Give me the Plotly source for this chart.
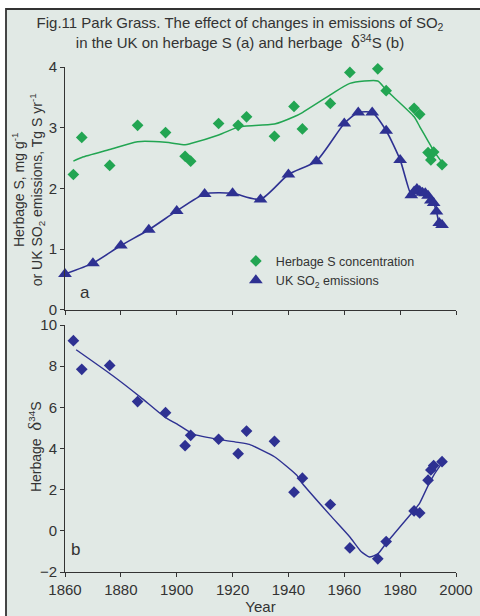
import plotly.graph_objects as go
from plotly.subplots import make_subplots

# ---- data ----
herb_years = [1863, 1866, 1876, 1886, 1896, 1903, 1905, 1915, 1922, 1925, 1935, 1942,
              1945, 1955, 1962, 1972, 1975, 1985, 1987, 1990, 1991, 1992, 1995]
herb_s = [2.23, 2.84, 2.38, 3.04, 2.92, 2.53, 2.45, 3.07, 3.04, 3.18, 2.86, 3.35,
          2.98, 3.40, 3.91, 3.97, 3.61, 3.32, 3.22, 2.59, 2.47, 2.60, 2.39]
herb_s_fit = [2.45, 2.51, 2.64, 2.77, 2.76, 2.72, 2.74, 2.88, 3.01, 3.03, 3.06, 3.18,
              3.25, 3.54, 3.73, 3.77, 3.62, 3.18, 3.02, 2.78, 2.70, 2.62, 2.43]

so2_years = [1860, 1870, 1880, 1890, 1900, 1910, 1920, 1930, 1940, 1950, 1960, 1965, 1970,
             1975, 1980, 1984, 1985, 1986, 1987, 1988, 1989, 1990, 1991, 1992, 1993, 1994, 1995]
so2_emis = [0.59, 0.77, 1.06, 1.32, 1.63, 1.91, 1.92, 1.82, 2.23, 2.45, 3.07, 3.25, 3.25,
            2.95, 2.47, 1.89, 1.95, 1.99, 1.96, 1.93, 1.92, 1.88, 1.80, 1.76, 1.62, 1.43, 1.40]

d34s = [9.24, 7.85, 8.04, 6.28, 5.74, 4.14, 4.64, 4.45, 3.75, 4.85, 4.35, 1.88,
        2.56, 1.28, -0.83, -1.36, -0.52, 0.97, 0.87, 2.46, 2.96, 3.17, 3.36]
d34s_fit_years = [1864, 1877, 1887, 1896, 1900, 1906, 1916, 1922, 1926, 1935, 1943, 1945,
                  1955, 1962, 1966, 1969, 1972, 1975, 1985, 1987, 1990, 1992, 1995]
d34s_fit = [8.8, 7.55, 6.5, 5.5, 5.2, 4.7, 4.42, 4.3, 4.2, 3.6, 2.7, 2.3,
            0.75, -0.3, -1.0, -1.27, -1.12, -0.6, 1.0, 1.35, 2.2, 2.7, 3.3]

x_ticks = [1860, 1880, 1900, 1920, 1940, 1960, 1980, 2000]

GREEN = "#22a552"
BLUE = "#2e3192"
BG = "#e1e9e5"
INK = "#333333"
FONT = "Liberation Sans, Arial, sans-serif"
DELTA = '<span style="font-family:Liberation Serif;font-size:19px">δ</span>'

fig = make_subplots(rows=2, cols=1, vertical_spacing=0.03)

# ---- panel a ----
fig.add_trace(go.Scatter(x=herb_years, y=herb_s_fit, mode="lines",
                         line=dict(color=GREEN, width=1.5, shape="spline", smoothing=0.6),
                         showlegend=False, hoverinfo="skip"), row=1, col=1)
fig.add_trace(go.Scatter(x=so2_years, y=so2_emis, mode="lines",
                         line=dict(color=BLUE, width=1.6, shape="spline", smoothing=0.6),
                         showlegend=False, hoverinfo="skip"), row=1, col=1)
fig.add_trace(go.Scatter(x=herb_years, y=herb_s, mode="markers", name="Herbage S concentration",
                         marker=dict(symbol="diamond", size=9, color=GREEN),
                         cliponaxis=False), row=1, col=1)
fig.add_trace(go.Scatter(x=so2_years, y=so2_emis, mode="markers",
                         name="UK SO<sub>2</sub> emissions",
                         marker=dict(symbol="triangle-up", size=12, color=BLUE),
                         cliponaxis=False), row=1, col=1)

# ---- panel b ----
fig.add_trace(go.Scatter(x=d34s_fit_years, y=d34s_fit, mode="lines",
                         line=dict(color=BLUE, width=1.4, shape="spline", smoothing=0.5),
                         showlegend=False, hoverinfo="skip"), row=2, col=1)
fig.add_trace(go.Scatter(x=herb_years, y=d34s, mode="markers",
                         marker=dict(symbol="diamond", size=9, color=BLUE),
                         showlegend=False, cliponaxis=False), row=2, col=1)

axis_style = dict(showgrid=False, zeroline=False, showline=True, linecolor=INK, linewidth=1,
                  ticks="outside", ticklen=4, tickcolor=INK, automargin=False,
                  tickfont=dict(family=FONT, size=15, color=INK))

fig.update_xaxes(range=[1860, 2000], tickvals=x_ticks, **axis_style)
fig.update_xaxes(showticklabels=False, row=1, col=1)
fig.update_xaxes(title=dict(text="Year", font=dict(family=FONT, size=15, color=INK), standoff=3),
                 row=2, col=1)
fig.update_yaxes(range=[0, 4], tickvals=[0, 1, 2, 3, 4], row=1, col=1, **axis_style)
fig.update_yaxes(range=[-2, 10], tickvals=[-2, 0, 2, 4, 6, 8, 10], row=2, col=1, **axis_style)

# domains to match the reference layout
fig.update_layout(yaxis=dict(domain=[0.519, 1.0]), yaxis2=dict(domain=[0.0, 0.489]))

fig.add_annotation(text="Herbage S, mg g<sup>-1</sup><br>or UK SO<sub>2</sub> emissions, Tg S yr<sup>-1</sup>",
                   xref="paper", yref="paper", x=-0.0946, y=0.756, textangle=-90, showarrow=False,
                   xanchor="center", yanchor="middle",
                   font=dict(family=FONT, size=14, color=INK))
fig.add_annotation(text="Herbage  " + DELTA + "<sup>34</sup>S", xref="paper", yref="paper",
                   x=-0.079, y=0.2475, textangle=-90, showarrow=False,
                   xanchor="center", yanchor="middle",
                   font=dict(family=FONT, size=14, color=INK))
fig.add_annotation(text="a", xref="paper", yref="paper", x=0.051, y=0.554, showarrow=False,
                   xanchor="center", yanchor="middle",
                   font=dict(family=FONT, size=17, color=INK))
fig.add_annotation(text="b", xref="paper", yref="paper", x=0.028, y=0.0436, showarrow=False,
                   xanchor="center", yanchor="middle",
                   font=dict(family=FONT, size=17, color=INK))

# framed panel: white outside, tinted inside
fig.add_shape(type="rect", xref="paper", yref="paper", x0=-0.1509, y0=-0.3, x1=1.3, y1=1.1149,
              line=dict(color=INK, width=1.8), fillcolor=BG, layer="below")

fig.update_layout(
    width=480, height=616,
    margin=dict(l=65, r=24, t=67, b=44, autoexpand=False),
    title=dict(text="Fig.11 Park Grass. The effect of changes in emissions of SO<sub>2</sub><br>"
                    "in the UK on herbage S (a) and herbage  " + DELTA + "<sup>34</sup>S (b)",
               x=0.5, xanchor="center", y=0.954, yanchor="top",
               font=dict(family=FONT, size=15, color=INK)),
    paper_bgcolor="white", plot_bgcolor="rgba(0,0,0,0)",
    font=dict(family=FONT, size=13, color=INK),
    legend=dict(x=0.437, y=0.645, xanchor="left", yanchor="top", bgcolor="rgba(0,0,0,0)",
                font=dict(family=FONT, size=12.5, color=INK), tracegroupgap=0, itemwidth=30),
)

fig.write_html("out.html", config={"displayModeBar": False},
               post_script="document.body.style.margin='0';")
